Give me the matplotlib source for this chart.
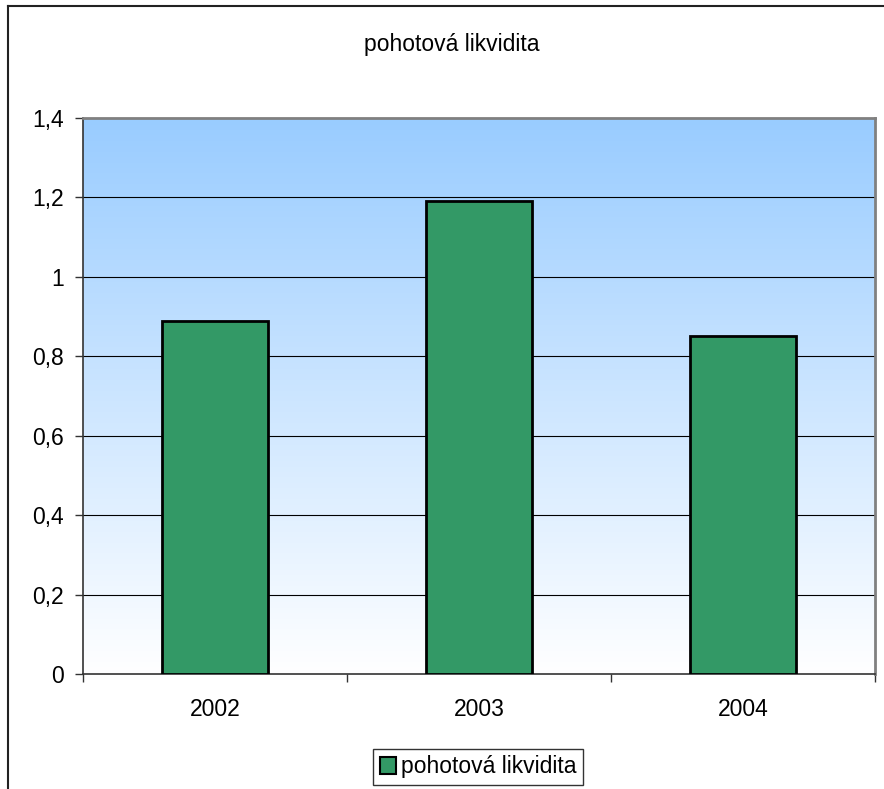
import matplotlib
matplotlib.use("Agg")
import matplotlib.pyplot as plt
import numpy as np
from matplotlib.lines import Line2D
from matplotlib.patches import Patch

plt.rcParams['font.family'] = ['Liberation Sans', 'DejaVu Sans']

title = "pohotová likvidita"
categories = ["2002", "2003", "2004"]
values = [0.89, 1.19, 0.85]
yticks = [0, 0.2, 0.4, 0.6, 0.8, 1.0, 1.2, 1.4]
ytick_labels = ["0", "0,2", "0,4", "0,6", "0,8", "1", "1,2", "1,4"]

FS = 16.5
W, H = 884, 789
fig = plt.figure(figsize=(W / 100, H / 100), dpi=100)
ax = fig.add_axes([83 / W, 1 - 674 / H, (875 - 83) / W, (674 - 118) / H])

# gradient background
grad = np.linspace(0, 1, 256).reshape(-1, 1)
top = np.array([0x99, 0xCC, 0xFF]) / 255.0
bot = np.array([1.0, 1.0, 1.0])
img = top[None, None, :] * (1 - grad[:, :, None]) + bot[None, None, :] * grad[:, :, None]
ax.imshow(img, extent=[0, 1, 0, 1], transform=ax.transAxes, aspect='auto', zorder=0)

x = np.arange(len(categories))
ax.set_xlim(-0.5, 2.5)
ax.set_ylim(0, 1.4)
for yv in yticks[1:-1]:
    ax.axhline(yv, color='#000000', lw=0.8, zorder=1)
ax.bar(x, values, width=0.405, color='#339966', edgecolor='black', linewidth=2, zorder=3)

ax.set_yticks(yticks)
ax.set_yticklabels(ytick_labels, fontsize=FS)
ax.set_xticks(x)
ax.set_xticklabels(categories, fontsize=FS)
ax.tick_params(axis='x', length=0, pad=17)
ax.tick_params(axis='y', length=6, width=1, color='#333333', pad=8)
# x ticks at category boundaries
ax.set_xticks([-0.5, 0.5, 1.5, 2.5], minor=True)
ax.tick_params(axis='x', which='minor', length=6, width=1, color='#333333')

for s in ['top', 'right']:
    ax.spines[s].set_color('#808080')
    ax.spines[s].set_linewidth(2)
for s in ['left', 'bottom']:
    ax.spines[s].set_color('#333333')
    ax.spines[s].set_linewidth(1.2)

fig.text(452 / W, 1 - 44 / H, title, ha='center', va='center', fontsize=FS)

# outer chart border (cropped)
fig.add_artist(Line2D([8 / W, 1], [1 - 6 / H, 1 - 6 / H], transform=fig.transFigure, color='#222222', lw=1.5))
fig.add_artist(Line2D([8 / W, 8 / W], [0, 1 - 6 / H], transform=fig.transFigure, color='#222222', lw=1.5))

handle = Patch(facecolor='#339966', edgecolor='black', linewidth=1.5)
leg = fig.legend([handle], [title], loc='center', bbox_to_anchor=(478 / W, 1 - 767 / H),
                 fontsize=FS, frameon=True, fancybox=False, edgecolor='black',
                 handlelength=0.7, handleheight=0.7, handletextpad=0.2, borderpad=0.3,
                 borderaxespad=0)
leg.get_frame().set_linewidth(1)

fig.savefig("out.png", dpi=100)
